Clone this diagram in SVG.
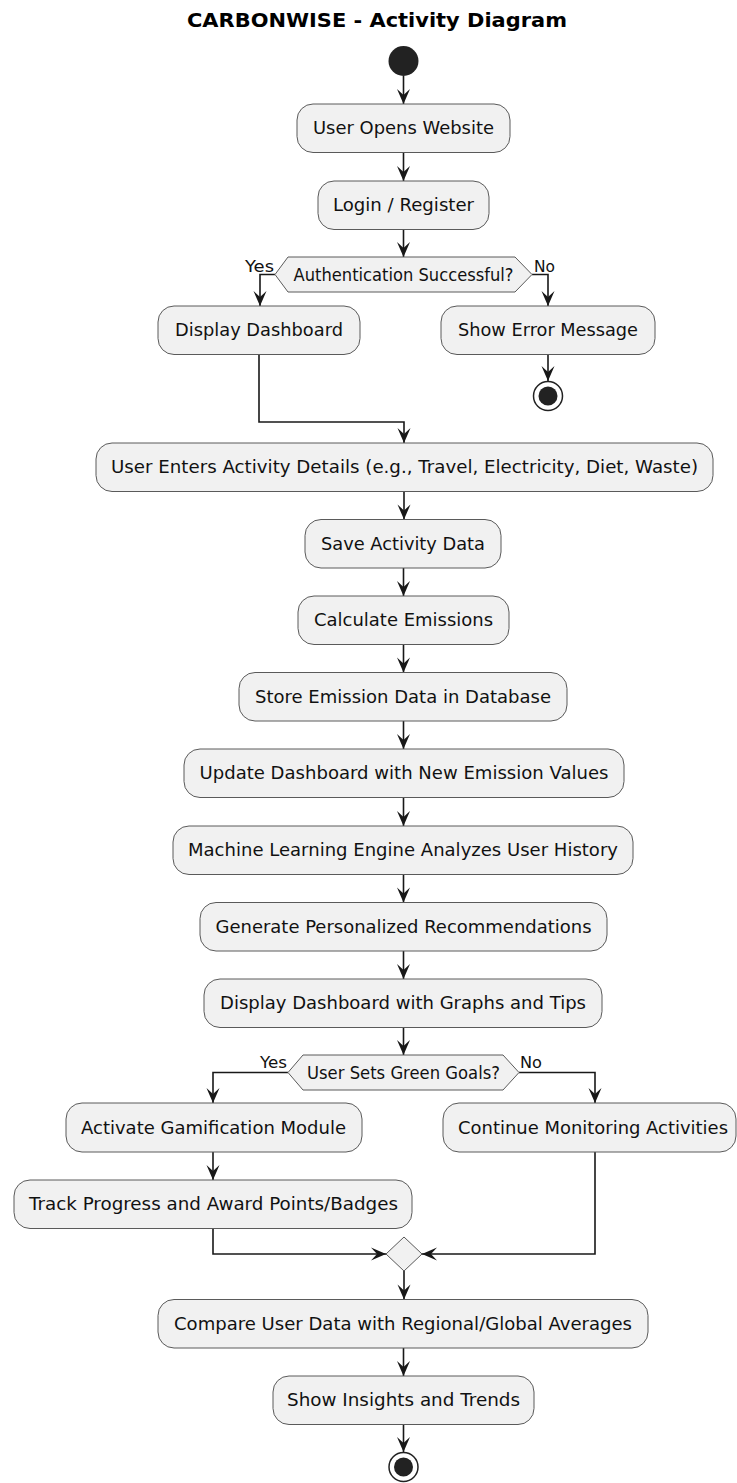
<svg xmlns="http://www.w3.org/2000/svg" width="737" height="1483" viewBox="0 0 737 1483">
  <defs>
    <style>
      .act { fill: #F1F1F1; stroke: #5a5a5a; stroke-width: 1; }
      .lbl { font-family: "DejaVu Sans", sans-serif; font-size: 17px; fill: #111; text-anchor: middle; }
      .elbl { font-family: "DejaVu Sans", sans-serif; font-size: 15px; fill: #111; }
      .title { font-family: "DejaVu Sans", sans-serif; font-size: 19.5px; font-weight: bold; fill: #000; text-anchor: middle; }
      .flow { fill: none; stroke: #181818; stroke-width: 1.6; }
      .dot { fill: #222222; }
    </style>
    <marker id="arrow" viewBox="-16 -8 17 16" refX="0" refY="0" markerWidth="17" markerHeight="16" markerUnits="userSpaceOnUse" orient="auto">
      <path d="M0,0 L-15,-6.5 L-9,0 L-15,6.5 Z" fill="#181818"/>
    </marker>
  </defs>

  <rect width="737" height="1483" fill="#FFFFFF"/>

  <text class="title" x="377" y="27" textLength="380" lengthAdjust="spacingAndGlyphs">CARBONWISE - Activity Diagram</text>

  <!-- connectors -->
  <g id="connectors">
    <path class="flow" d="M403.5,76 V104" marker-end="url(#arrow)"/>
    <path class="flow" d="M403.5,152.5 V181" marker-end="url(#arrow)"/>
    <path class="flow" d="M403.5,229.5 V257" marker-end="url(#arrow)"/>
    <path class="flow" d="M275,274.5 H260 V306" marker-end="url(#arrow)"/>
    <path class="flow" d="M532,274.5 H548 V306" marker-end="url(#arrow)"/>
    <path class="flow" d="M548,354.5 V381" marker-end="url(#arrow)"/>
    <path class="flow" d="M259,354.5 V422 H404 V443" marker-end="url(#arrow)"/>
    <path class="flow" d="M404,491.5 V519.5" marker-end="url(#arrow)"/>
    <path class="flow" d="M403.5,568 V596" marker-end="url(#arrow)"/>
    <path class="flow" d="M403.5,644.5 V672.5" marker-end="url(#arrow)"/>
    <path class="flow" d="M403.5,721 V749" marker-end="url(#arrow)"/>
    <path class="flow" d="M403.5,797.5 V826" marker-end="url(#arrow)"/>
    <path class="flow" d="M403.5,874.5 V902.5" marker-end="url(#arrow)"/>
    <path class="flow" d="M403.5,951 V979" marker-end="url(#arrow)"/>
    <path class="flow" d="M403.5,1027.5 V1055" marker-end="url(#arrow)"/>
    <path class="flow" d="M288,1072.5 H213 V1103" marker-end="url(#arrow)"/>
    <path class="flow" d="M519,1072.5 H595 V1103" marker-end="url(#arrow)"/>
    <path class="flow" d="M213,1152 V1180" marker-end="url(#arrow)"/>
    <path class="flow" d="M213,1228.5 V1254 H386" marker-end="url(#arrow)"/>
    <path class="flow" d="M595,1152 V1254 H422" marker-end="url(#arrow)"/>
    <path class="flow" d="M404,1271 V1299.5" marker-end="url(#arrow)"/>
    <path class="flow" d="M403.5,1348 V1376" marker-end="url(#arrow)"/>
    <path class="flow" d="M403.5,1424.5 V1452" marker-end="url(#arrow)"/>
    <text class="elbl" x="245" y="272" textLength="29" lengthAdjust="spacingAndGlyphs">Yes</text>
    <text class="elbl" x="534" y="272" textLength="21" lengthAdjust="spacingAndGlyphs">No</text>
    <text class="elbl" x="260" y="1068" textLength="27" lengthAdjust="spacingAndGlyphs">Yes</text>
    <text class="elbl" x="520" y="1068" textLength="22" lengthAdjust="spacingAndGlyphs">No</text>
  </g>

  <!-- start -->
  <g id="start">
    <circle class="dot" cx="403.5" cy="61" r="15"/>
  </g>

  <g id="open-website">
    <rect class="act" x="297" y="104" width="213" height="48.5" rx="16"/>
    <text class="lbl" x="403.5" y="134" textLength="181" lengthAdjust="spacingAndGlyphs">User Opens Website</text>
  </g>

  <g id="login">
    <rect class="act" x="318" y="181" width="171" height="48.5" rx="16"/>
    <text class="lbl" x="403.5" y="211" textLength="141" lengthAdjust="spacingAndGlyphs">Login / Register</text>
  </g>

  <g id="auth-decision">
    <polygon class="act" points="275,274.5 288,257 515,257 532,274.5 515,292 288,292"/>
    <text class="lbl" x="403.5" y="280.5" textLength="220" lengthAdjust="spacingAndGlyphs">Authentication Successful?</text>
  </g>

  <g id="display-dashboard">
    <rect class="act" x="158" y="306" width="202" height="48.5" rx="16"/>
    <text class="lbl" x="259" y="336" textLength="168" lengthAdjust="spacingAndGlyphs">Display Dashboard</text>
  </g>

  <g id="show-error">
    <rect class="act" x="441" y="306" width="214" height="48.5" rx="16"/>
    <text class="lbl" x="548" y="336" textLength="180" lengthAdjust="spacingAndGlyphs">Show Error Message</text>
  </g>

  <g id="stop-error">
    <circle cx="548" cy="396" r="14.5" fill="#FFFFFF" stroke="#222" stroke-width="1.5"/>
    <circle class="dot" cx="548" cy="396" r="9.5"/>
  </g>

  <g id="enter-activity">
    <rect class="act" x="96" y="443" width="617" height="48.5" rx="16"/>
    <text class="lbl" x="404.5" y="473" textLength="587" lengthAdjust="spacingAndGlyphs">User Enters Activity Details (e.g., Travel, Electricity, Diet, Waste)</text>
  </g>

  <g id="save-activity">
    <rect class="act" x="305" y="519.5" width="196" height="48.5" rx="16"/>
    <text class="lbl" x="403" y="549.5" textLength="164" lengthAdjust="spacingAndGlyphs">Save Activity Data</text>
  </g>

  <g id="calculate">
    <rect class="act" x="298" y="596" width="211" height="48.5" rx="16"/>
    <text class="lbl" x="403.5" y="626" textLength="179" lengthAdjust="spacingAndGlyphs">Calculate Emissions</text>
  </g>

  <g id="store">
    <rect class="act" x="239" y="672.5" width="328" height="48.5" rx="16"/>
    <text class="lbl" x="403" y="702.5" textLength="296" lengthAdjust="spacingAndGlyphs">Store Emission Data in Database</text>
  </g>

  <g id="update-dashboard">
    <rect class="act" x="184" y="749" width="440" height="48.5" rx="16"/>
    <text class="lbl" x="404" y="779" textLength="409" lengthAdjust="spacingAndGlyphs">Update Dashboard with New Emission Values</text>
  </g>

  <g id="ml-engine">
    <rect class="act" x="173" y="826" width="460" height="48.5" rx="16"/>
    <text class="lbl" x="403" y="856" textLength="430" lengthAdjust="spacingAndGlyphs">Machine Learning Engine Analyzes User History</text>
  </g>

  <g id="recommendations">
    <rect class="act" x="200" y="902.5" width="407" height="48.5" rx="16"/>
    <text class="lbl" x="403.5" y="932.5" textLength="376" lengthAdjust="spacingAndGlyphs">Generate Personalized Recommendations</text>
  </g>

  <g id="dashboard-tips">
    <rect class="act" x="204" y="979" width="398" height="48.5" rx="16"/>
    <text class="lbl" x="403" y="1009" textLength="366" lengthAdjust="spacingAndGlyphs">Display Dashboard with Graphs and Tips</text>
  </g>

  <g id="goals-decision">
    <polygon class="act" points="288,1072.5 303,1055 503,1055 519,1072.5 503,1090 303,1090"/>
    <text class="lbl" x="403.5" y="1078.5" textLength="193" lengthAdjust="spacingAndGlyphs">User Sets Green Goals?</text>
  </g>

  <g id="gamification">
    <rect class="act" x="66" y="1103" width="296" height="49" rx="16"/>
    <text class="lbl" x="213.5" y="1133.5" textLength="265" lengthAdjust="spacingAndGlyphs">Activate Gamification Module</text>
  </g>

  <g id="continue-monitoring">
    <rect class="act" x="443" y="1103" width="293" height="49" rx="16"/>
    <text class="lbl" x="593" y="1133.5" textLength="270" lengthAdjust="spacingAndGlyphs">Continue Monitoring Activities</text>
  </g>

  <g id="track-progress">
    <rect class="act" x="14" y="1180" width="398" height="48.5" rx="16"/>
    <text class="lbl" x="213.5" y="1210" textLength="369" lengthAdjust="spacingAndGlyphs">Track Progress and Award Points/Badges</text>
  </g>

  <g id="merge">
    <polygon class="act" points="386,1254 404,1237 422,1254 404,1271"/>
  </g>

  <g id="compare">
    <rect class="act" x="158" y="1299.5" width="490" height="48.5" rx="16"/>
    <text class="lbl" x="403" y="1329.5" textLength="458" lengthAdjust="spacingAndGlyphs">Compare User Data with Regional/Global Averages</text>
  </g>

  <g id="insights">
    <rect class="act" x="273" y="1376" width="261" height="48.5" rx="16"/>
    <text class="lbl" x="403.5" y="1406" textLength="233" lengthAdjust="spacingAndGlyphs">Show Insights and Trends</text>
  </g>

  <g id="stop">
    <circle cx="403.5" cy="1467" r="14.5" fill="#FFFFFF" stroke="#222" stroke-width="1.5"/>
    <circle class="dot" cx="403.5" cy="1467" r="9.5"/>
  </g>
</svg>
